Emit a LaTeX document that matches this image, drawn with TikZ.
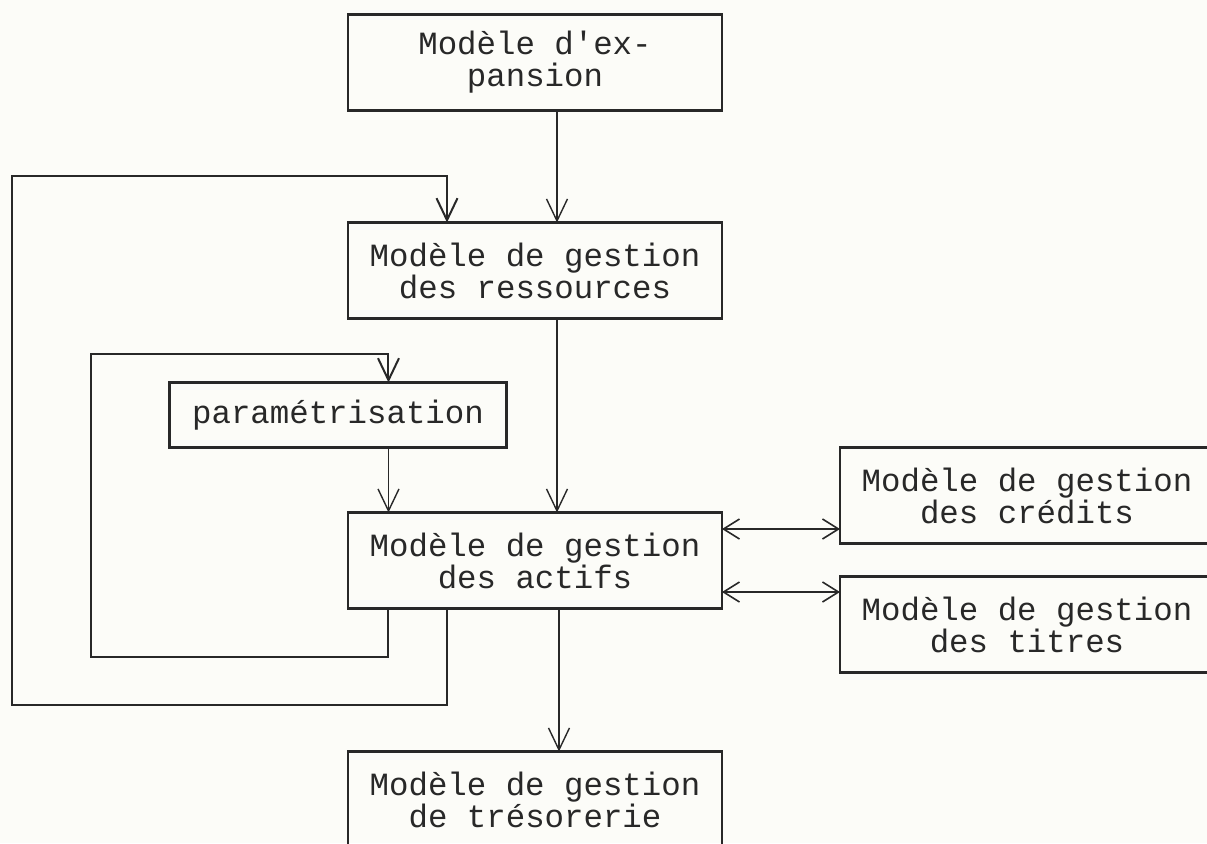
\documentclass[tikz,border=0pt]{standalone}
\usepackage{fontspec}
\setmonofont{Liberation Mono}
\usepackage{tikz}
\usetikzlibrary{arrows.meta, positioning}

\definecolor{paper}{RGB}{252,252,248}
\definecolor{ink}{RGB}{40,40,40}

\begin{document}
\begin{tikzpicture}[
    node distance=56pt and 59pt,
    model/.style={rectangle, draw=ink, line width=1.1pt, text=ink, outer sep=0pt,
                  minimum width=187pt, minimum height=48pt, align=center,
                  font=\ttfamily\fontsize{16.2}{16}\selectfont},
    param/.style={model, minimum width=168.5pt, minimum height=32.5pt},
    flow/.style={-{Straight Barb[length=11pt, width=10.5pt]}, ink, line width=0.7pt},
    loop/.style={flow, line width=1pt},
    link/.style={{Straight Barb[length=8pt, width=10pt]}-{Straight Barb[length=8pt, width=10pt]},
                 ink, line width=0.8pt}
]
\fill[paper] (-267.5pt,31.25pt) rectangle (336pt,-390.25pt);
\clip (-267.5pt,31.25pt) rectangle (336pt,-390.25pt);

\node[model] (expansion) at (0,0) {Modèle d'ex-\\pansion};
\node[model, below=56pt of expansion] (ressources) {Modèle de gestion\\des ressources};
\node[model, below=97pt of ressources] (actifs) {Modèle de gestion\\des actifs};
\node[param, above=32.5pt of actifs, xshift=-98.5pt] (parametres) {paramétrisation};
\node[model, right=59pt of actifs, yshift=32.5pt] (credits) {Modèle de gestion\\des crédits};
\node[model, right=59pt of actifs, yshift=-32pt] (titres) {Modèle de gestion\\des titres};
\node[model, below=71.5pt of actifs] (tresorerie) {Modèle de gestion\\de trésorerie};

\draw[flow] ([xshift=11pt]expansion.south) -- ([xshift=11pt]ressources.north);
\draw[flow] ([xshift=11pt]ressources.south) -- ([xshift=11pt]actifs.north);
\draw[flow] ([xshift=12pt]actifs.south) -- ([xshift=12pt]tresorerie.north);
\draw[flow] ([xshift=25.25pt]parametres.south) -- ([xshift=25.25pt]parametres.south |- actifs.north);
\draw[loop] ([xshift=-43.75pt]actifs.south) -- ++(0,-48pt) -| ++(-217.5pt,264.5pt)
    -| ([xshift=-44pt]ressources.north);
\draw[loop] ([xshift=25.25pt]parametres.south |- actifs.south) -- ++(0,-24pt) -| ++(-148.5pt,151.5pt)
    -| ([xshift=25.25pt]parametres.north);
\draw[link] ([yshift=15.75pt]actifs.east) -- ([yshift=15.75pt]actifs.east -| credits.west);
\draw[link] ([yshift=-15.75pt]actifs.east) -- ([yshift=-15.75pt]actifs.east -| titres.west);
\end{tikzpicture}
\end{document}
